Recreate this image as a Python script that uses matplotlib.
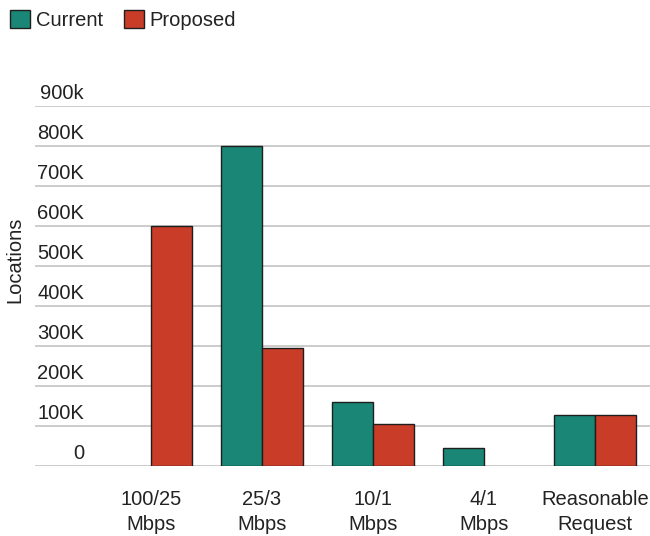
import numpy as np
import matplotlib
matplotlib.use('Agg')
import matplotlib.pyplot as plt
from matplotlib.patches import Patch
from matplotlib import transforms

plt.rcParams['font.family'] = ['Liberation Sans', 'DejaVu Sans']

categories = ['100/25\nMbps', '25/3\nMbps', '10/1\nMbps', '4/1\nMbps', 'Reasonable\nRequest']
current = [np.nan, 800000, 160000, 44000, 127000]
proposed = [600000, 294000, 105000, np.nan, 127000]
y_ticks = [0, 100000, 200000, 300000, 400000, 500000, 600000, 700000, 800000, 900000]
y_labels = ['0', '100K', '200K', '300K', '400K', '500K', '600K', '700K', '800K', '900k']

teal = '#1a8776'
red = '#c93d28'
fs = 14.5

fig = plt.figure(figsize=(6.5, 5.36), dpi=100)
ax = fig.add_axes([35 / 650, 1 - 466 / 536, 615 / 650, (466 - 106) / 536])

x = np.arange(len(categories))
w = 0.365
ax.bar(x - w / 2, current, w, color=teal, edgecolor='#1e1e1e', linewidth=1)
ax.bar(x + w / 2, proposed, w, color=red, edgecolor='#1e1e1e', linewidth=1)

ax.set_xlim((35 - 151) / 111, (650 - 151) / 111)
ax.set_ylim(0, 900000)
ax.set_yticks(y_ticks)
ax.yaxis.grid(True, color='#c8c8c8', linewidth=1.3)
ax.set_axisbelow(True)
ax.tick_params(axis='y', length=0, labelleft=False)
ax.set_xticks(x)
ax.set_xticklabels(categories, fontsize=fs, color='#222222', linespacing=1.4)
ax.tick_params(axis='x', length=0, pad=17)
for s in ax.spines.values():
    s.set_visible(False)

trans = transforms.blended_transform_factory(ax.transAxes, ax.transData)
trans = transforms.offset_copy(trans, fig=fig, y=5, units='points')
for v, lab in zip(y_ticks, y_labels):
    ax.text(0.0797, v, lab, transform=trans, ha='right', va='baseline',
            fontsize=fs, color='#222222')

fig.text(15 / 650, 1 - 260 / 536, 'Locations', rotation=90, ha='center', va='center',
         fontsize=fs, color='#222222')

handles = [Patch(facecolor=teal, edgecolor='#1e1e1e', linewidth=1),
           Patch(facecolor=red, edgecolor='#1e1e1e', linewidth=1)]
fig.legend(handles, ['Current', 'Proposed'], loc='upper left', bbox_to_anchor=(0.0, 1.0),
           ncol=2, frameon=False, fontsize=fs, handlelength=1.0, handleheight=1.0,
           handletextpad=0.3, columnspacing=1.0, borderaxespad=0.3, borderpad=0.2,
           labelcolor='#222222')

fig.savefig('out.png', dpi=100)
